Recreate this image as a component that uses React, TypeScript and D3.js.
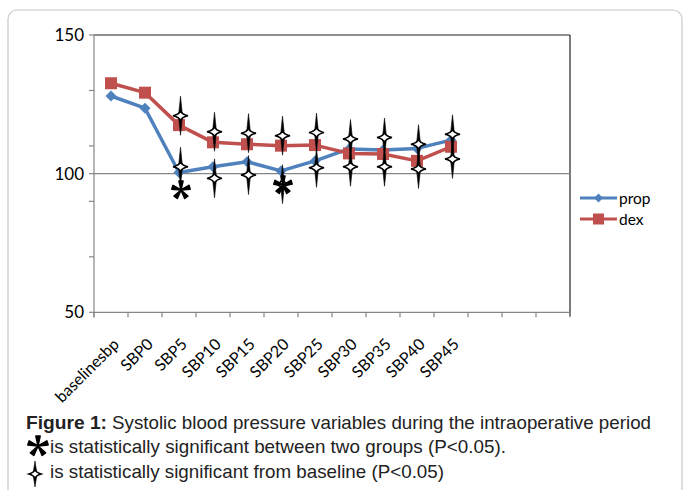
import React from "react";
import * as d3 from "d3";

const categories = ["baselinesbp", "SBP0", "SBP5", "SBP10", "SBP15", "SBP20", "SBP25", "SBP30", "SBP35", "SBP40", "SBP45"];
const slotCount = 14;
const propValues = [128.0, 123.6, 100.4, 102.5, 104.3, 101.0, 104.6, 108.9, 108.5, 109.1, 112.1];
const dexValues = [132.6, 129.2, 117.5, 111.3, 110.6, 110.1, 110.3, 107.3, 107.1, 104.6, 109.7];
// significance-from-baseline markers: category index and value at the marker's diamond
const sigIndex = [2, 3, 4, 5, 6, 7, 8, 9, 10];
const sigDexValues = [120.9, 115.1, 114.6, 113.7, 114.8, 112.5, 113.0, 110.6, 114.2];
const sigPropValues = [102.5, 98.3, 99.5, 96.2, 102.1, 102.5, 102.5, 101.7, 105.3];
// between-group significance (asterisk)
const starIndex = [2, 5];
const starValues = [94.1, 95.9];
const yTickValues = [50, 70, 90, 100, 110, 130, 150];
const yLabelValues = [50, 100, 150];
const seriesNames = ["prop", "dex"];
const captionTitle = "Figure 1:";
const captionLine1 = "Systolic blood pressure variables during the intraoperative period";
const captionLine2 = "is statistically significant between two groups (P<0.05).";
const captionLine3 = "is statistically significant from baseline (P<0.05)";

const BLUE = "#4F81BD";
const RED = "#C0504D";
const AXIS = "#868686";
const FONT = "Lato, 'Open Sans', sans-serif";
const CAPFONT = "'Liberation Sans Narrow', 'Liberation Sans', Arial, sans-serif";

const L = 94, R = 570, T = 35, B = 312.3;

const x = d3.scaleBand<number>().domain(d3.range(slotCount)).range([L, R]);
const cx = (i: number) => (x(i) as number) + x.bandwidth() / 2;
const y = d3.scaleLinear().domain([50, 150]).range([B, T]);

function Diamond({ px, py, s = 5.5 }: { px: number; py: number; s?: number }) {
  return <path d={`M${px},${py - s}L${px + s},${py}L${px},${py + s}L${px - s},${py}Z`} fill={BLUE} />;
}
function Square({ px, py, s = 12 }: { px: number; py: number; s?: number }) {
  return <rect x={px - s / 2} y={py - s / 2} width={s} height={s} fill={RED} />;
}
function SigMark({ px, py, h = 19.5, w = 7.5, d = 5 }: { px: number; py: number; h?: number; w?: number; d?: number }) {
  return (
    <g>
      <path d={`M${px},${py - h}L${px + 2},${py}L${px},${py + h}L${px - 2},${py}Z`} fill="#000" stroke="#000" strokeWidth={0.6} />
      <path
        d={`M${px - w},${py}Q${px - 1.3},${py - 1.3} ${px},${py - d}Q${px + 1.3},${py - 1.3} ${px + w},${py}Q${px + 1.3},${py + 1.3} ${px},${py + d}Q${px - 1.3},${py + 1.3} ${px - w},${py}Z`}
        fill="#fff"
        stroke="#000"
        strokeWidth={1.5}
      />
    </g>
  );
}
function Star({ px, py, r = 8.5, sw = 3.8 }: { px: number; py: number; r?: number; sw?: number }) {
  const arms = d3.range(5).map((k) => (-90 + k * 72) * (Math.PI / 180));
  return (
    <g>
      {arms.map((a, k) => (
        <path
          key={k}
          d={`M${px},${py}L${px + r * Math.cos(a) - (sw / 2) * Math.sin(a)},${py + r * Math.sin(a) + (sw / 2) * Math.cos(a)}L${px + r * Math.cos(a) + (sw / 2) * Math.sin(a)},${py + r * Math.sin(a) - (sw / 2) * Math.cos(a)}Z`}
          fill="#000"
          stroke="#000"
          strokeWidth={1.6}
          strokeLinejoin="round"
        />
      ))}
    </g>
  );
}

export default function App() {
  const line = d3
    .line<number>()
    .x((_, i) => cx(i))
    .y((v) => y(v));
  return (
    <svg width={683} height={490} style={{ position: "absolute", left: 0, top: 0, background: "#fff" }}>
      <rect x={8} y={10} width={674} height={520} rx={9} fill="#fff" stroke="#c8c8c8" strokeWidth={1.2} />
      {/* plot border top and right */}
      <line x1={L} x2={R} y1={T} y2={T} stroke="#222" strokeWidth={1.2} />
      <line x1={R} x2={R} y1={T} y2={B + 4} stroke="#222" strokeWidth={1.2} />
      {/* gridline at 100 */}
      <line x1={L} x2={R} y1={y(100)} y2={y(100)} stroke={AXIS} strokeWidth={1.2} />
      {/* y axis */}
      <line x1={L} x2={L} y1={T} y2={B + 5} stroke={AXIS} strokeWidth={1.2} />
      {yTickValues.map((v) => (
        <line key={v} x1={L - 5} x2={L} y1={y(v)} y2={y(v)} stroke={AXIS} strokeWidth={1.2} />
      ))}
      {yLabelValues.map((v) => (
        <text key={v} x={84} y={y(v)} dy="0.36em" textAnchor="end" fontFamily={FONT} fontSize={17} fill="#000">
          {v}
        </text>
      ))}
      {/* x axis */}
      <line x1={L} x2={R} y1={B} y2={B} stroke={AXIS} strokeWidth={1.2} />
      {d3.range(slotCount + 1).map((i) => {
        const px = L + i * x.bandwidth();
        return <line key={i} x1={px} x2={px} y1={B} y2={B + 5} stroke={AXIS} strokeWidth={1.2} />;
      })}
      {categories.map((c, i) => (
        <text
          key={c}
          transform={`translate(${cx(i) + 9},${B + 33}) rotate(-45)`}
          textAnchor="end"
          fontFamily={FONT}
          fontSize={16}
          fill="#000"
        >
          {c}
        </text>
      ))}
      {/* series lines */}
      <path d={line(propValues) as string} fill="none" stroke={BLUE} strokeWidth={3.5} strokeLinejoin="round" />
      <path d={line(dexValues) as string} fill="none" stroke={RED} strokeWidth={3.5} strokeLinejoin="round" />
      {propValues.map((v, i) => (
        <Diamond key={"p" + i} px={cx(i)} py={y(v)} />
      ))}
      {dexValues.map((v, i) => (
        <Square key={"d" + i} px={cx(i)} py={y(v)} />
      ))}
      {/* significance markers */}
      {sigIndex.map((idx, k) => (
        <SigMark key={"sd" + k} px={cx(idx) + 1.5} py={y(sigDexValues[k])} />
      ))}
      {sigIndex.map((idx, k) => (
        <SigMark key={"sp" + k} px={cx(idx) + 1.5} py={y(sigPropValues[k])} />
      ))}
      {starIndex.map((idx, k) => (
        <Star key={"st" + k} px={cx(idx) + 2} py={y(starValues[k])} r={9} sw={4} />
      ))}
      {/* legend */}
      {seriesNames.map((n, k) => {
        const ly = 198 + k * 21;
        return (
          <g key={n}>
            <line x1={580} x2={617} y1={ly} y2={ly} stroke={k === 0 ? BLUE : RED} strokeWidth={3} />
            {k === 0 ? <Diamond px={598.5} py={ly} s={4.5} /> : <Square px={598.5} py={ly} s={11} />}
            <text x={619} y={ly} dy="0.36em" fontFamily={FONT} fontSize={15.5} fill="#000">
              {n}
            </text>
          </g>
        );
      })}
      {/* caption */}
      <text x={26} y={429} fontFamily={CAPFONT} fontSize={19} fontWeight="bold" fill="#222" textLength={81} lengthAdjust="spacingAndGlyphs">
        {captionTitle}
      </text>
      <text x={112} y={429} fontFamily={CAPFONT} fontSize={19} fill="#222" textLength={539} lengthAdjust="spacingAndGlyphs">
        {captionLine1}
      </text>
      <Star px={38} py={446} r={10} sw={4.2} />
      <text x={50} y={453} fontFamily={CAPFONT} fontSize={19} fill="#222" textLength={456} lengthAdjust="spacingAndGlyphs">
        {captionLine2}
      </text>
      <SigMark px={35} py={474} h={13} w={6} d={4.5} />
      <text x={50} y={478} fontFamily={CAPFONT} fontSize={19} fill="#222" textLength={394} lengthAdjust="spacingAndGlyphs">
        {captionLine3}
      </text>
    </svg>
  );
}
